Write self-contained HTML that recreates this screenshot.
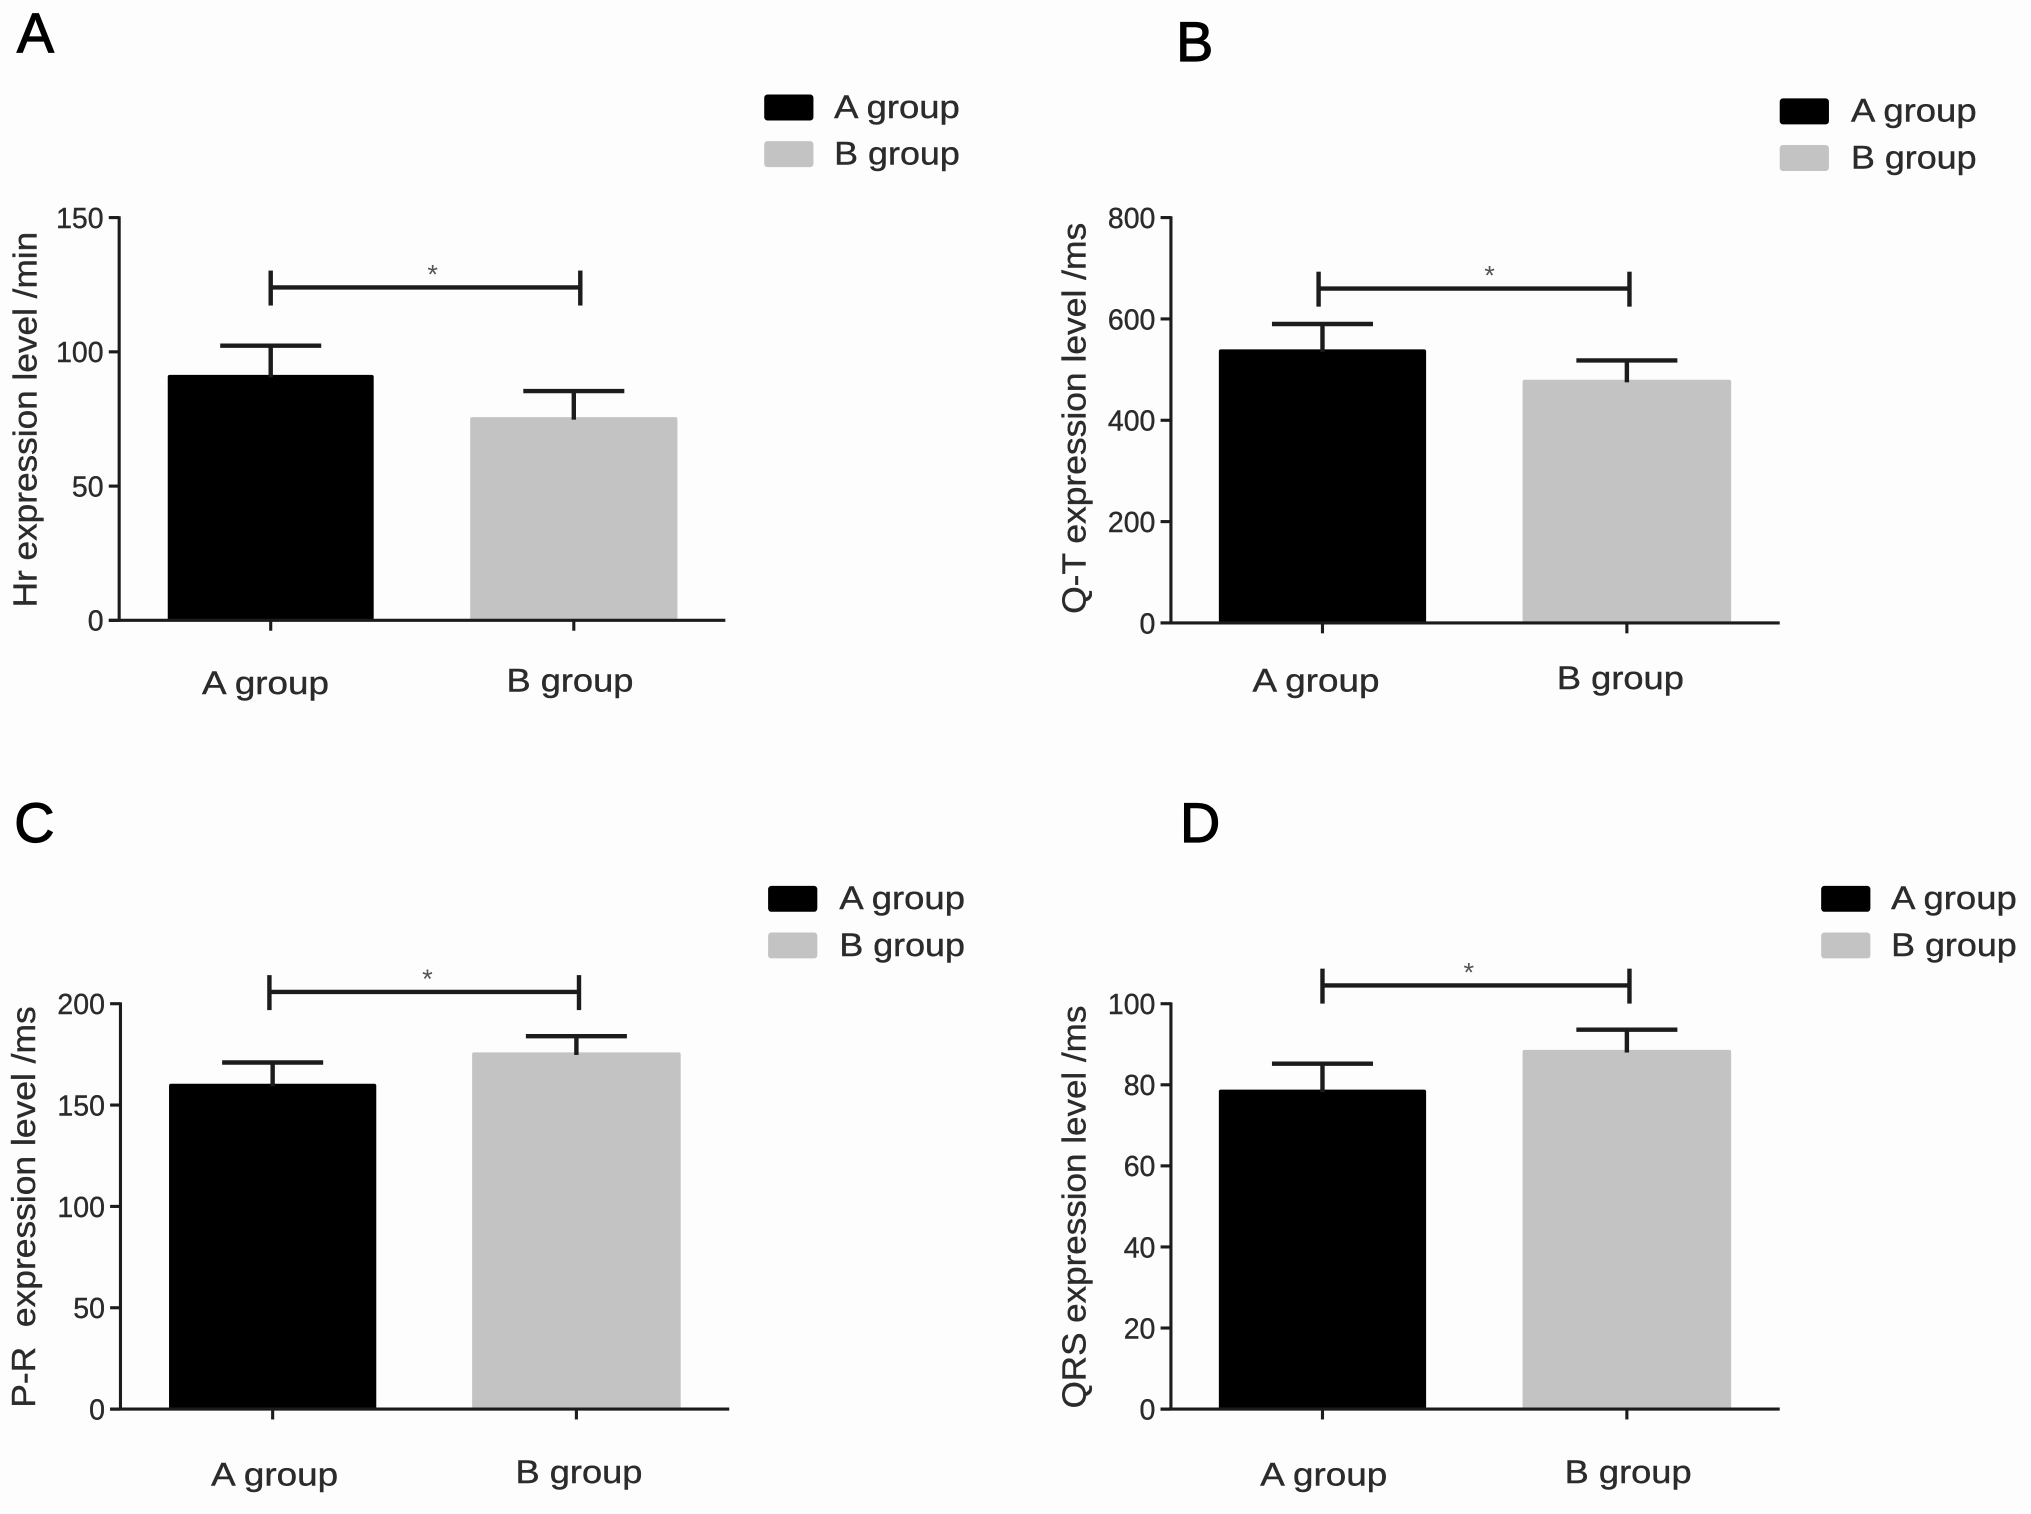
<!DOCTYPE html>
<html lang="en">
<head>
<meta charset="utf-8">
<title>Expression level by group</title>
<style>
  html, body { margin: 0; padding: 0; background: #fdfdfd; }
  svg { display: block; width: 2031px; height: 1514px; }
  text { font-family: "Liberation Sans", Arial, sans-serif; fill: #2b2b2b; white-space: pre; stroke: #2b2b2b; stroke-width: 0.3; }
</style>
</head>
<body>
<svg id="figure" xmlns="http://www.w3.org/2000/svg" viewBox="0 0 1568 1169" preserveAspectRatio="none"></svg>
<script>
// ---- data ----
const categories = ['A group', 'B group'];

const hrValues = [91.4, 75.7];
const hrErrors = [102.3, 85.4];
const hrTicks = [0, 50, 100, 150];
const hrBracket = 124;

const qtValues = [540, 480];
const qtErrors = [590, 518];
const qtTicks = [0, 200, 400, 600, 800];
const qtBracket = 660;

const prValues = [160.5, 176];
const prErrors = [171, 184];
const prTicks = [0, 50, 100, 150, 200];
const prBracket = 205.8;

const qrsValues = [78.8, 88.6];
const qrsErrors = [85.2, 93.6];
const qrsTicks = [0, 20, 40, 60, 80, 100];
const qrsBracket = 104.5;

// ---- layout ----
const barColors = ['#000000', '#c3c3c3'];
const inkColor = '#1c1c1c';
const panels = [
  { id: 'a', letter: 'A', letterX: 13, letterY: 40, title: 'Hr expression level /min', titleX: 28, titleY: 324, titleLen: 290,
    values: hrValues, errors: hrErrors, ticks: hrTicks, bracket: hrBracket,
    axisX: 92, axisEnd: 560, yTop: 168, yZero: 479,
    centers: [209, 443], barWidths: [159, 160], bracketX: [209, 448], starX: 334,
    labelX: [205, 440], labelY: [536, 534],
    legendX: 590, legendY: [73, 109], legendTextX: 644 },
  { id: 'b', letter: 'B', letterX: 908, letterY: 47, title: 'Q-T expression level /ms', titleX: 838, titleY: 323, titleLen: 302,
    values: qtValues, errors: qtErrors, ticks: qtTicks, bracket: qtBracket,
    axisX: 904, axisEnd: 1374, yTop: 168, yZero: 481,
    centers: [1021, 1256], barWidths: [160, 161], bracketX: [1018, 1258], starX: 1150,
    labelX: [1016, 1251], labelY: [534, 532],
    legendX: 1374, legendY: [76, 112], legendTextX: 1429 },
  { id: 'c', letter: 'C', letterX: 11, letterY: 650, title: 'P-R  expression level /ms', titleX: 27, titleY: 932, titleLen: 310,
    values: prValues, errors: prErrors, ticks: prTicks, bracket: prBracket,
    axisX: 93, axisEnd: 563, yTop: 775, yZero: 1088,
    centers: [210.5, 445], barWidths: [160, 161], bracketX: [208, 447], starX: 330,
    labelX: [212, 447], labelY: [1147, 1145],
    legendX: 593, legendY: [684, 720], legendTextX: 648 },
  { id: 'd', letter: 'D', letterX: 911, letterY: 650, title: 'QRS expression level /ms', titleX: 838, titleY: 932, titleLen: 311,
    values: qrsValues, errors: qrsErrors, ticks: qrsTicks, bracket: qrsBracket,
    axisX: 904, axisEnd: 1374, yTop: 775, yZero: 1088,
    centers: [1021, 1256], barWidths: [160, 161], bracketX: [1021, 1258], starX: 1134,
    labelX: [1022, 1257], labelY: [1147, 1145],
    legendX: 1406, legendY: [684, 720], legendTextX: 1460 }
];

// ---- drawing ----
const NS = 'http://www.w3.org/2000/svg';
const figure = document.getElementById('figure');

function make(tag, parent, name, attrs, content) {
  const el = document.createElementNS(NS, tag);
  
  
  Object.keys(attrs).forEach(function (k) { el.setAttribute(k, attrs[k]); });
  if (content !== undefined) el.textContent = content;
  parent.appendChild(el);
  return el;
}

function line(parent, name, x1, y1, x2, y2, width) {
  return make('line', parent, name, { x1: x1, y1: y1, x2: x2, y2: y2, stroke: inkColor, 'stroke-width': width });
}

function yScale(p, v) {
  const max = p.ticks[p.ticks.length - 1];
  return p.yZero - (v / max) * (p.yZero - p.yTop);
}

function xScale(p, i) {
  return p.centers[i];
}

panels.forEach(function (p) {
  const g = make('g', figure, 'panel-' + p.id, {});

  make('text', g, 'panel-letter-' + p.id, { x: p.letterX, y: p.letterY, 'font-size': 43, style: 'fill:#000;stroke:#000;stroke-width:0.9' }, p.letter);

  // bars
  categories.forEach(function (cat, i) {
    const cx = xScale(p, i);
    const top = yScale(p, p.values[i]);
    make('rect', g, 'bar-' + p.id + '-' + cat.charAt(0).toLowerCase(), {
      x: cx - p.barWidths[i] / 2, y: top, width: p.barWidths[i], height: p.yZero - top, rx: 1.5, fill: barColors[i]
    });
  });

  // error bars
  categories.forEach(function (cat, i) {
    const cx = xScale(p, i);
    const top = yScale(p, p.errors[i]);
    const key = p.id + '-' + cat.charAt(0).toLowerCase();
    line(g, 'error-stem-' + key, cx, yScale(p, p.values[i]) + 2, cx, top, 3.4);
    line(g, 'error-cap-' + key, cx - 39, top, cx + 39, top, 3.4);
  });

  // axes
  line(g, 'y-axis-' + p.id, p.axisX, p.yTop - 1, p.axisX, p.yZero + 1, 2.4);
  line(g, 'x-axis-' + p.id, p.axisX - 8, p.yZero, p.axisEnd, p.yZero, 2.4);

  p.ticks.forEach(function (t) {
    const y = yScale(p, t);
    line(g, 'y-tick-' + p.id + '-' + t, p.axisX - 8, y, p.axisX, y, 2.4);
    make('text', g, 'y-tick-label-' + p.id + '-' + t, {
      x: p.axisX - 12, y: y + 8, 'font-size': 22, 'text-anchor': 'end'
    }, String(t));
  });

  categories.forEach(function (cat, i) {
    const cx = xScale(p, i);
    line(g, 'x-tick-' + p.id + '-' + i, cx, p.yZero, cx, p.yZero + 8, 2.4);
    make('text', g, 'x-tick-label-' + p.id + '-' + i, {
      x: p.labelX[i], y: p.labelY[i], 'font-size': 25, 'text-anchor': 'middle',
      textLength: 98, lengthAdjust: 'spacingAndGlyphs'
    }, cat);
  });

  make('text', g, 'y-axis-title-' + p.id, {
    x: 0, y: 0, 'font-size': 26, 'text-anchor': 'middle',
    textLength: p.titleLen, lengthAdjust: 'spacingAndGlyphs',
    transform: 'translate(' + p.titleX + ' ' + p.titleY + ') rotate(-90)'
  }, p.title);

  // significance bracket
  const by = yScale(p, p.bracket);
  line(g, 'bracket-bar-' + p.id, p.bracketX[0], by, p.bracketX[1], by, 3.4);
  line(g, 'bracket-left-' + p.id, p.bracketX[0], by - 13, p.bracketX[0], by + 14, 3.4);
  line(g, 'bracket-right-' + p.id, p.bracketX[1], by - 13, p.bracketX[1], by + 14, 3.4);
  make('text', g, 'significance-star-' + p.id, {
    x: p.starX, y: by - 3, 'font-size': 21, 'text-anchor': 'middle', style: 'fill:#555;stroke:none'
  }, '*');

  // legend
  categories.forEach(function (cat, i) {
    make('rect', g, 'legend-swatch-' + p.id + '-' + i, {
      x: p.legendX, y: p.legendY[i], width: 38, height: 20, rx: 2.5, fill: barColors[i]
    });
    make('text', g, 'legend-label-' + p.id + '-' + i, {
      x: p.legendTextX, y: p.legendY[i] + 18, 'font-size': 25,
      textLength: 97, lengthAdjust: 'spacingAndGlyphs'
    }, cat);
  });
});
</script>
</body>
</html>
